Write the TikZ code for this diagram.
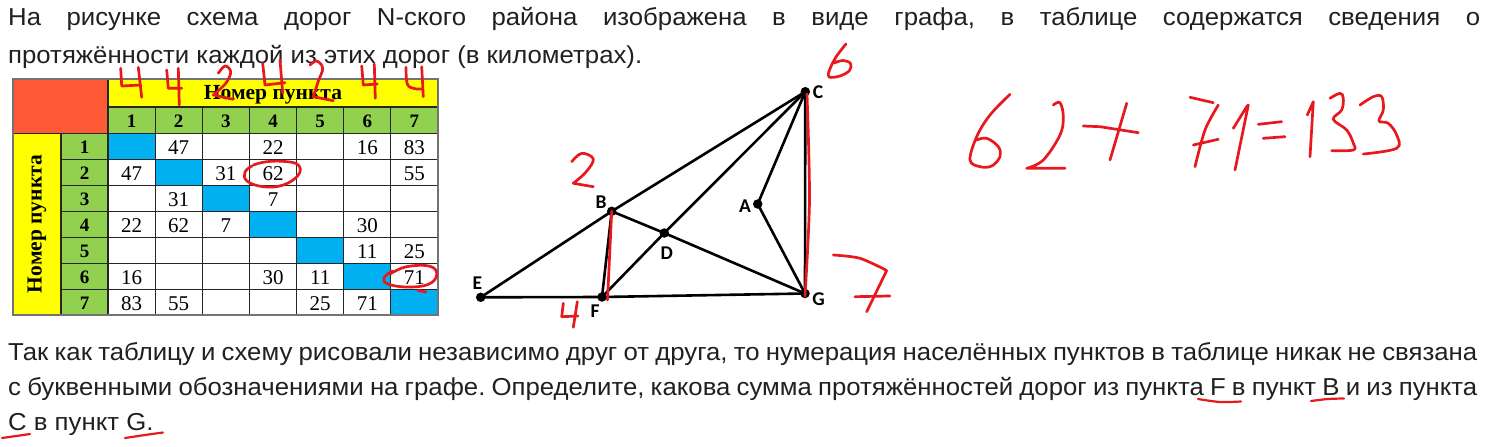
\documentclass[tikz,border=0pt]{standalone}
\usepackage{fontspec}
\usepackage{graphicx}
\setmainfont{Liberation Sans}
\newfontfamily\tf{Liberation Sans}
\newfontfamily\tabf{Liberation Serif}
\newfontfamily\lblf{Carlito}
\usetikzlibrary{calc}
\frenchspacing
\definecolor{txtc}{HTML}{202020}
\definecolor{hred}{HTML}{E8191E}
\definecolor{corange}{HTML}{FF5A36}
\definecolor{cyel}{HTML}{FFFF00}
\definecolor{cgreen}{HTML}{92D050}
\definecolor{cblue}{HTML}{00B0F0}
\newcommand\txt{\tf\fontsize{24.5}{28}\selectfont\color{txtc}}
\newcommand\tnum{\tabf\fontsize{21}{24}\selectfont}
\newcommand\thead{\tabf\bfseries\fontsize{19}{22}\selectfont}
\newcommand\topA{На рисунке схема дорог N-ского района изображена в виде графа, в таблице содержатся сведения о}
\newcommand\topB{протяжённости каждой из этих дорог (в километрах).}
\newcommand\botA{Так как таблицу и схему рисовали независимо друг от друга, то нумерация населённых пунктов в таблице никак не связана}
\newcommand\botB{с буквенными обозначениями на графе. Определите, какова сумма протяжённостей дорог из пункта F в пункт B и из пункта}
\newcommand\botC{C в пункт G.}
\newlength\refw
\tikzset{
  vtx/.style={circle,fill=black,inner sep=0pt,minimum size=9.5pt},
  road/.style={line width=2.6pt,black,line cap=round},
  hw/.style={draw=hred,line width=2.7pt,line cap=round,line join=round},
  lbl/.style={font=\lblf\bfseries\fontsize{19.5}{22}\selectfont,text=black,inner sep=0pt},
  para/.style={anchor=base west,inner sep=0pt},
  num/.style={font=\tnum,anchor=base,inner sep=0pt},
  hnum/.style={font=\thead,anchor=base,inner sep=0pt},
  grid/.style={draw=black!85,line width=1.1pt}
}
\begin{document}
\settowidth\refw{\txt\topB}%
\pgfmathsetmacro\sx{634/\refw}%
\pgfmathsetmacro\wA{1472/\sx}%
\pgfmathsetmacro\wB{1469/\sx}%
\begin{tikzpicture}[x=1pt,y=-1pt]
\useasboundingbox (0,0) rectangle (1489,447);
\fill[white] (0,0) rectangle (1489,447);
% ---------- text ----------
\node[para] (tA) at (8,25) {\scalebox{\sx}[1]{\makebox[\wA pt][s]{\txt\topA}}};
\node[para] (tB) at (8,63) {\scalebox{\sx}[1]{\txt\topB}};
\node[para] (bA) at (8,360) {\scalebox{\sx}[1]{\makebox[\wB pt][s]{\txt\botA}}};
\node[para] (bB) at (8,395) {\scalebox{\sx}[1]{\makebox[\wB pt][s]{\txt\botB}}};
\node[para] (bC) at (8,430) {\scalebox{\sx}[1]{\txt\botC}};
% ---------- table ----------
\def\cw{47.143}
\def\rh{25.93}
\fill[corange] (13,79) rectangle (108,133.5);
\fill[cyel] (108,79) rectangle (438,107);
\fill[cgreen] (108,107) rectangle (438,133.5);
\fill[cyel] (13,133.5) rectangle (61,315);
\fill[cgreen] (61,133.5) rectangle (108,315);
\foreach \i in {1,...,7}{
  \fill[cblue] ({108+(\i-1)*\cw},{133.5+(\i-1)*\rh}) rectangle ++(\cw,\rh);
}
\foreach \k in {1,...,6}{
  \draw[grid] ({108+\k*\cw},107) -- ({108+\k*\cw},315);
  \draw[grid] (61,{133.5+\k*\rh}) -- (438,{133.5+\k*\rh});
}
\draw[grid] (108,79) -- (108,315);
\draw[grid] (61,133.5) -- (61,315);
\draw[grid] (108,107) -- (438,107);
\draw[grid] (13,133.5) -- (438,133.5);
\draw[draw=black!55,line width=1.1pt] (13,79) rectangle (438,315);
\node[font=\tabf\bfseries\fontsize{21.5}{24}\selectfont,anchor=base,inner sep=0pt] (hdr) at (273,99.5) {Номер пункта};
\node[font=\tabf\bfseries\fontsize{21.5}{24}\selectfont,rotate=90,inner sep=0pt] (vhdr) at (37,224) {Номер пункта};
\foreach \i in {1,...,7}{
  \node[hnum] (hc\i) at ({108+(\i-0.5)*\cw},127) {\i};
  \node[hnum] (hr\i) at (84.5,{133.5+(\i-0.5)*\rh+7.5}) {\i};
}
\foreach \r/\c/\v in {1/2/47,1/4/22,1/6/16,1/7/83,
  2/1/47,2/3/31,2/4/62,2/7/55,
  3/2/31,3/4/7,
  4/1/22,4/2/62,4/3/7,4/6/30,
  5/6/11,5/7/25,
  6/1/16,6/4/30,6/5/11,6/7/71,
  7/1/83,7/2/55,7/5/25,7/6/71}{
  \node[num] (n\r\c) at ({108+(\c-0.5)*\cw},{133.5+(\r-0.5)*\rh+8.3}) {\v};
}
% ---------- graph ----------
\node[vtx] (A) at (757.7,204) {};
\node[vtx] (B) at (611.7,211.3) {};
\node[vtx] (C) at (805.3,91.7) {};
\node[vtx] (D) at (664.3,233) {};
\node[vtx] (E) at (480.7,297.3) {};
\node[vtx] (F) at (602,297) {};
\node[vtx] (G) at (805,293.5) {};
\foreach \a/\b in {E/B,B/C,E/F,F/G,B/F,F/D,D/C,B/D,D/G,C/A,A/G,C/G}{
  \draw[road] (\a.center) -- (\b.center);
}
\node[lbl] (lA) at (745,205.7) {A};
\node[lbl] (lB) at (601,202.3) {B};
\node[lbl] (lC) at (818,91.7) {C};
\node[lbl] (lD) at (666.7,252.7) {D};
\node[lbl] (lE) at (477.3,283.3) {E};
\node[lbl] (lF) at (595,310.7) {F};
\node[lbl] (lG) at (818.5,299.3) {G};
% ---------- handwriting ----------
\draw[hw] (B.center) -- ($(F.center)+(5.5,3)$);
\draw[hw] plot[smooth] coordinates {(807,94) (809.5,200) (805,296)};
% digits above table
\draw[hw] (120.7,68.3) -- (121.7,86) -- (140.7,85);
\draw[hw] (138.3,67.3) -- (141.7,97.3);
\draw[hw] (166.7,70) -- (168.3,88.3) -- (181.7,88.3);
\draw[hw] (178.3,68.3) -- (179.3,105);
\draw[hw] plot[smooth,tension=0.6] coordinates {(218.3,73.3) (225,66) (230.7,71.7) (226,83) (213.3,95)} -- (233.3,99.3);
\draw[hw] (262.7,63.3) -- (265,85) -- (285,82.7);
\draw[hw] (280,60) -- (282.7,93.3);
\draw[hw] plot[smooth,tension=0.6] coordinates {(310,65) (316.7,61) (322.7,68.3) (318,82) (313.3,96.7)} -- (333.3,100.7);
\draw[hw] (361.7,66) -- (363.3,85) -- (377.3,84);
\draw[hw] (374.3,64) -- (375.3,98.3);
\draw[hw] plot[smooth,tension=0.6] coordinates {(406,67.3) (407.3,84) (414,88.5) (422,89)};
\draw[hw] (421.7,66.7) -- (423.3,96.7);
% circles in table
\draw[hw] plot[smooth,tension=0.7] coordinates {(253.3,165) (266.7,161.7) (285,161.5) (298.3,165) (298.3,175) (283.3,185) (263.3,186.7) (247,181) (245,172) (252,166)};
\draw[hw] plot[smooth,tension=0.7] coordinates {(390,274) (406.7,266.7) (430,266.3) (436.7,275) (428,284.5) (406.7,287) (388,284) (384,278) (392,271)};
\draw[hw] (418,290.5) -- (426,292);
% numbers near graph
\draw[hw] plot[smooth,tension=0.6] coordinates {(846,44) (836,57) (829.5,70) (829,77) (840,76) (849.5,70.5) (850.5,63.5) (843,60.5) (834,63)};
\draw[hw] plot[smooth,tension=0.6] coordinates {(571.7,161.7) (581.7,153.3) (593.3,159) (586,172) (573.3,183.3)} -- (593.3,186.7);
\draw[hw] (563.3,303.3) -- (561.7,316.7) -- (578,316);
\draw[hw] (577.3,301.7) -- (573.3,327.3);
\draw[hw] plot[smooth,tension=0.5] coordinates {(833.3,255) (860,258.3) (886.7,270.5)} -- (866.7,311.7);
\draw[hw] (855,296.7) -- (890,296);
% equation 62+71=133
\draw[hw] plot[smooth,tension=0.6] coordinates {(1010,94.3) (990,115) (976.7,136.7) (970,160) (980,166.7) (991.7,166) (1000,156.7) (998.3,146.7) (986.7,138.3) (976.7,140)};
\draw[hw] plot[smooth,tension=0.6] coordinates {(1053.3,105) (1060,102.7) (1063.3,116.7) (1060,135) (1043.3,160) (1026.7,168.3)} -- (1065,168.3);
\draw[hw] (1083.3,126) -- (1100,126.7) -- (1138.3,132.7);
\draw[hw] (1126.7,103.3) -- (1110,160);
\draw[hw] (1190,97.3) -- (1213.3,102.7);
\draw[hw] plot[smooth,tension=0.5] coordinates {(1218.3,105) (1205,130) (1195,166.7)};
\draw[hw] (1193.3,145) -- (1218.3,139.3);
\draw[hw] (1233.3,128.3) -- (1246.7,106.7) -- (1248.3,105) -- (1235,170);
\draw[hw] (1258.3,124.3) -- (1281.7,121.7);
\draw[hw] (1263.3,138.3) -- (1285,136.7);
\draw[hw] (1307.3,115) -- (1313.3,101.7) -- (1310,156.7);
\draw[hw] plot[smooth,tension=0.6] coordinates {(1330,98.3) (1340,93.3) (1343.3,98.3) (1341.7,110) (1333.3,119.3) (1346.7,130) (1353.3,143.3) (1353.3,150) (1331.7,150.7)};
\draw[hw] plot[smooth,tension=0.6] coordinates {(1360,105) (1373.3,96.7) (1381.7,96.7) (1383.3,110) (1379,121) (1388.3,123.3) (1396.7,135) (1396.7,148.3) (1363.3,154)};
% underlines
\draw[hw,line width=2.2pt] plot[smooth] coordinates {(1198,399) (1220,402) (1241,401.5)};
\draw[hw,line width=2.2pt] plot[smooth] coordinates {(1311,401) (1328,399) (1344,398.5)};
\draw[hw,line width=2.2pt] plot[smooth] coordinates {(2,438) (16,436) (30,434)};
\draw[hw,line width=2.2pt] plot[smooth] coordinates {(125,438) (145,435) (163,432.5)};
\end{tikzpicture}
\end{document}
